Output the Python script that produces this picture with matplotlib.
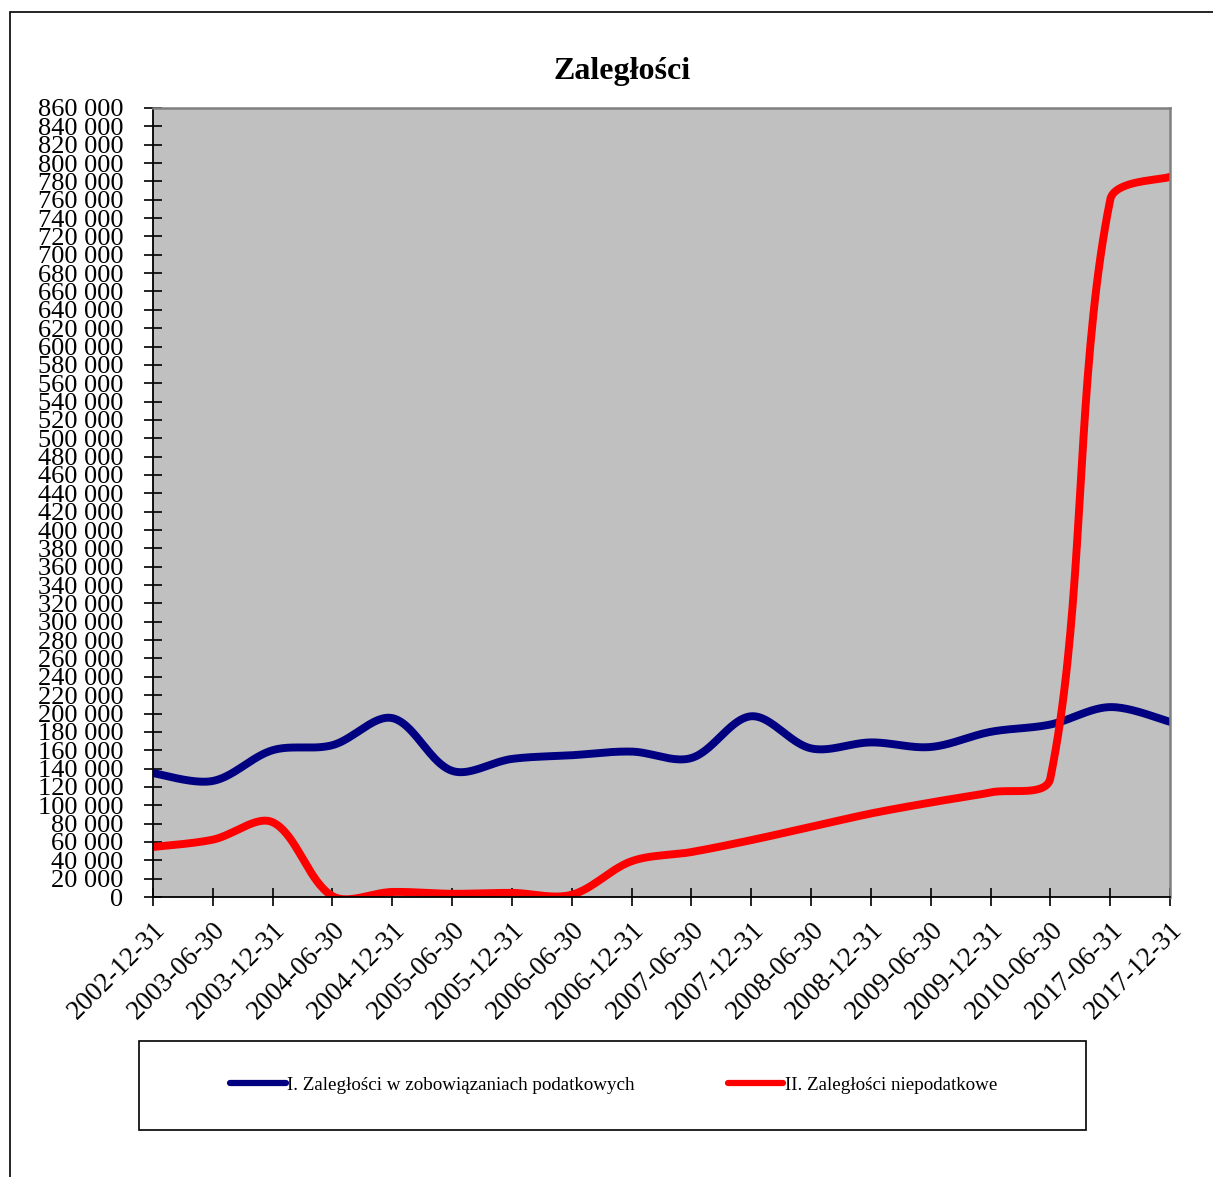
import numpy as np
import matplotlib
matplotlib.use("Agg")
import matplotlib.pyplot as plt
from matplotlib.patches import Rectangle
from matplotlib.lines import Line2D

dates = ["2002-12-31", "2003-06-30", "2003-12-31", "2004-06-30", "2004-12-31",
         "2005-06-30", "2005-12-31", "2006-06-30", "2006-12-31", "2007-06-30",
         "2007-12-31", "2008-06-30", "2008-12-31", "2009-06-30", "2009-12-31",
         "2010-06-30", "2017-06-31", "2017-12-31"]
podatkowe = [135000, 126500, 160000, 165500, 195000, 137500, 150500, 154500, 158500,
             151500, 197000, 162000, 168500, 163500, 180000, 188000, 207000, 191000]
niepodatkowe = [54500, 62500, 81500, 1000, 5500, 3500, 4500, 2500, 39000,
                49000, 62000, 76500, 91000, 103000, 114000, 129500, 760000, 785000]
series_names = ["I. Zaległości w zobowiązaniach podatkowych",
                "II. Zaległości niepodatkowe"]
series_colors = ["#000080", "#FF0000"]
title = "Zaległości"
y_max = 860000
y_step = 20000

serif = ["Liberation Serif", "DejaVu Serif"]
plt.rcParams["font.family"] = serif

fig = plt.figure(figsize=(12.13, 11.77), dpi=100)
ax = fig.add_axes([153 / 1213, 1 - 897 / 1177, (1170 - 153) / 1213, (897 - 108) / 1177])
ax.set_facecolor("#C0C0C0")
x = np.arange(len(dates))
ax.set_xlim(0, len(dates) - 1)
ax.set_ylim(0, y_max)


def smooth(xs, ys, n=40):
    # Excel-like Bezier smoothing computed in display space
    P = ax.transData.transform(np.column_stack([xs, ys]))
    m = len(P)
    d = np.linalg.norm(np.diff(P, axis=0), axis=1)
    c_out = np.zeros_like(P)
    c_in = np.zeros_like(P)
    for i in range(m):
        if i == 0:
            c_out[i] = P[0] + (P[1] - P[0]) / 6
            continue
        if i == m - 1:
            c_in[i] = P[i] - (P[i] - P[i - 1]) / 6
            continue
        T = P[i + 1] - P[i - 1]
        dl, dr = d[i - 1], d[i]
        s = dl + dr
        c_out[i] = P[i] + T * (dr / s) / 3
        c_in[i] = P[i] - T * (dl / s) / 3
    t = np.linspace(0, 1, n)[:, None]
    segs = []
    for i in range(m - 1):
        p0, p1, p2, p3 = P[i], c_out[i], c_in[i + 1], P[i + 1]
        b = ((1 - t) ** 3) * p0 + 3 * ((1 - t) ** 2) * t * p1 + 3 * (1 - t) * t ** 2 * p2 + t ** 3 * p3
        segs.append(b if i == 0 else b[1:])
    B = np.vstack(segs)
    D = ax.transData.inverted().transform(B)
    return D[:, 0], D[:, 1]


for vals, name, col in zip([podatkowe, niepodatkowe], series_names, series_colors):
    sx, sy = smooth(x, vals)
    ax.plot(sx, sy, color=col, lw=5.7, solid_capstyle="round", solid_joinstyle="round")

yt = np.arange(0, y_max + 1, y_step)
ax.set_yticks(yt)
ax.set_yticklabels([f"{v:,}".replace(",", " ") for v in yt], fontsize=19)
ax.set_xticks(x)
ax.set_xticklabels(dates, fontsize=19.5, rotation=45, ha="right", va="top",
                   rotation_mode="anchor")
ax.tick_params(axis="y", direction="inout", length=13, width=1.2, pad=15)
ax.tick_params(axis="x", direction="inout", length=13, width=1.2, pad=8)

for s in ["left", "bottom"]:
    ax.spines[s].set_color("black")
    ax.spines[s].set_linewidth(1.3)
for s in ["top", "right"]:
    ax.spines[s].set_color("#808080")
    ax.spines[s].set_linewidth(1.8)

fig.text(622 / 1213, 1 - 72 / 1177, title, ha="center", va="center",
         fontsize=23, fontweight="bold")

# outer chart frame
fig.add_artist(Rectangle((10 / 1213, -0.1), 1.2, 1 - 12 / 1177 + 0.1,
                         transform=fig.transFigure, fill=False, ec="black", lw=1.2))
# legend box
fig.add_artist(Rectangle((139 / 1213, 1 - 1130 / 1177), (1086 - 139) / 1213, (1130 - 1041) / 1177,
                         transform=fig.transFigure, fill=False, ec="black", lw=1.2))
handles = [Line2D([0], [0], color=c, lw=4.5, solid_capstyle="round") for c in series_colors]
fig.legend(handles, series_names, loc="center", bbox_to_anchor=(614 / 1213, 1 - 1085 / 1177),
           ncol=2, frameon=False, fontsize=13.7, handlelength=2.9, handletextpad=0.1,
           columnspacing=4.9)

fig.savefig("out.png", dpi=100)
